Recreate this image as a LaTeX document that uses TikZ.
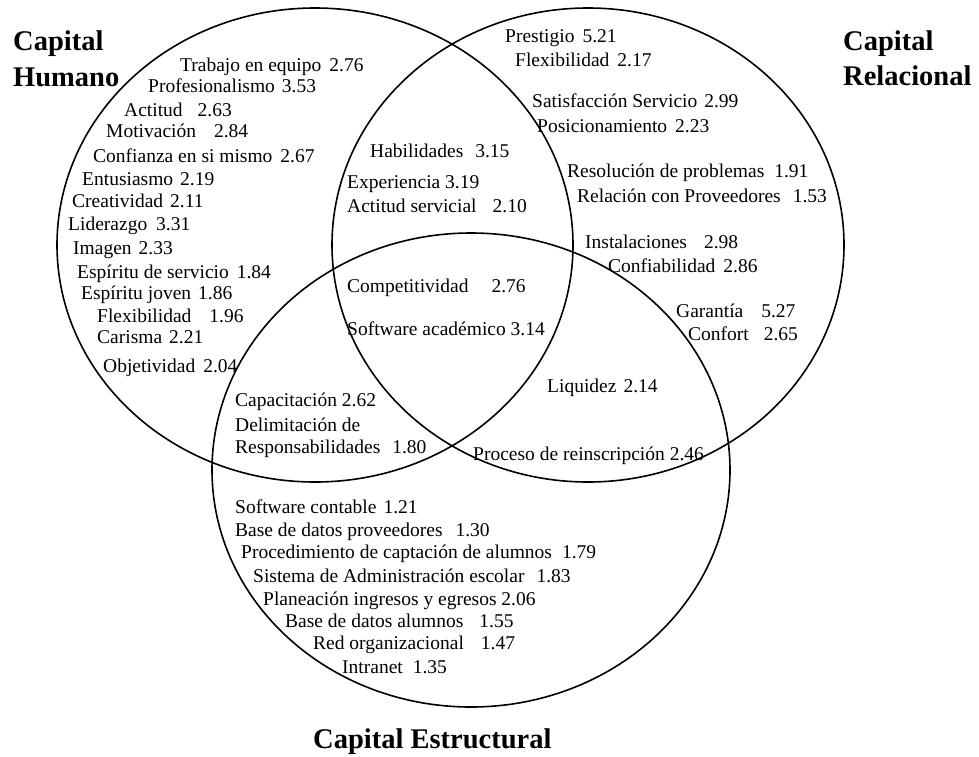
\documentclass[tikz,border=0pt]{standalone}
\usepackage{fontspec}
\setmainfont{Liberation Serif}
\begin{document}
\begin{tikzpicture}[x=1pt,y=-1pt]
\tikzset{
  lbl/.style={anchor=base west, inner sep=0pt, font=\fontsize{19.5}{22}\selectfont},
  ttl/.style={anchor=base west, inner sep=0pt, font=\fontsize{28.5}{32}\selectfont\bfseries},
  venn/.style={line width=1.6pt, draw=black}
}
\useasboundingbox (0,0) rectangle (979,756);
% circles
\draw[venn] (315,245) ellipse [x radius=258pt, y radius=237pt];
\draw[venn] (588,245) ellipse [x radius=256pt, y radius=237pt];
\draw[venn] (471,470) ellipse [x radius=259pt, y radius=237pt];
% titles
\node[ttl] (th1) at (13,50) {Capital};
\node[ttl] (th2) at (13,86) {Humano};
\node[ttl] (tr1) at (843,50) {Capital};
\node[ttl] (tr2) at (843,85) {Relacional};
\node[ttl] (ts) at (313,748) {Capital Estructural};
% Capital Humano
\node[lbl] (h1) at (180,71) {Trabajo en equipo\hspace{8pt}2.76};
\node[lbl] (h2) at (148,92) {Profesionalismo\hspace{7pt}3.53};
\node[lbl] (h3) at (124,116) {Actitud\hspace{15pt}2.63};
\node[lbl] (h4) at (106,137) {Motivación\hspace{18pt}2.84};
\node[lbl] (h5) at (93,162) {Confianza en si mismo\hspace{8pt}2.67};
\node[lbl] (h6) at (82,185) {Entusiasmo\hspace{7pt}2.19};
\node[lbl] (h7) at (72,207) {Creatividad\hspace{7pt}2.11};
\node[lbl] (h8) at (68,230) {Liderazgo\hspace{9pt}3.31};
\node[lbl] (h9) at (73,254) {Imagen\hspace{7pt}2.33};
\node[lbl] (h10) at (77,278) {Espíritu de servicio\hspace{8pt}1.84};
\node[lbl] (h11) at (81,299) {Espíritu joven\hspace{7pt}1.86};
\node[lbl] (h12) at (97,322) {Flexibilidad\hspace{18pt}1.96};
\node[lbl] (h13) at (97,343) {Carisma\hspace{7pt}2.21};
\node[lbl] (h14) at (103,372) {Objetividad\hspace{8pt}2.04};
% Humano & Relacional
\node[lbl] (hr1) at (370,157) {Habilidades\hspace{12pt}3.15};
\node[lbl] (hr2) at (347,188) {Experiencia 3.19};
\node[lbl] (hr3) at (347,212) {Actitud servicial\hspace{16pt}2.10};
% Capital Relacional
\node[lbl] (r1) at (505,42) {Prestigio\hspace{8pt}5.21};
\node[lbl] (r2) at (515,66) {Flexibilidad\hspace{8pt}2.17};
\node[lbl] (r3) at (532,107) {Satisfacción Servicio\hspace{7pt}2.99};
\node[lbl] (r4) at (537,132) {Posicionamiento\hspace{8pt}2.23};
\node[lbl] (r5) at (567,177) {Resolución de problemas\hspace{10pt}1.91};
\node[lbl] (r6) at (577,202) {Relación con Proveedores\hspace{12pt}1.53};
\node[lbl] (r7) at (585,248) {Instalaciones\hspace{17pt}2.98};
\node[lbl] (r8) at (608,272) {Confiabilidad\hspace{8pt}2.86};
\node[lbl] (r9) at (676,317) {Garantía\hspace{18pt}5.27};
\node[lbl] (r10) at (688,340) {Confort\hspace{15pt}2.65};
% all three
\node[lbl] (c1) at (347,292) {Competitividad\hspace{23pt}2.76};
\node[lbl] (c2) at (347,335) {Software académico 3.14};
% Humano & Estructural
\node[lbl] (hs1) at (235,406) {Capacitación 2.62};
\node[lbl] (hs2) at (235,431) {Delimitación de};
\node[lbl] (hs3) at (235,453) {Responsabilidades\hspace{12pt}1.80};
% Relacional & Estructural
\node[lbl] (rs1) at (547,392) {Liquidez\hspace{7pt}2.14};
\node[lbl] (rs2) at (473,460) {Proceso de reinscripción 2.46};
% Capital Estructural
\node[lbl] (s1) at (235,513) {Software contable\hspace{7pt}1.21};
\node[lbl] (s2) at (235,536) {Base de datos proveedores\hspace{13pt}1.30};
\node[lbl] (s3) at (241,558) {Procedimiento de captación de alumnos\hspace{10pt}1.79};
\node[lbl] (s4) at (253,582) {Sistema de Administración escolar\hspace{12pt}1.83};
\node[lbl] (s5) at (263,605) {Planeación ingresos y egresos 2.06};
\node[lbl] (s6) at (285,627) {Base de datos alumnos\hspace{16pt}1.55};
\node[lbl] (s7) at (313,649) {Red organizacional\hspace{17pt}1.47};
\node[lbl] (s8) at (342,673) {Intranet\hspace{10pt}1.35};
\end{tikzpicture}
\end{document}
